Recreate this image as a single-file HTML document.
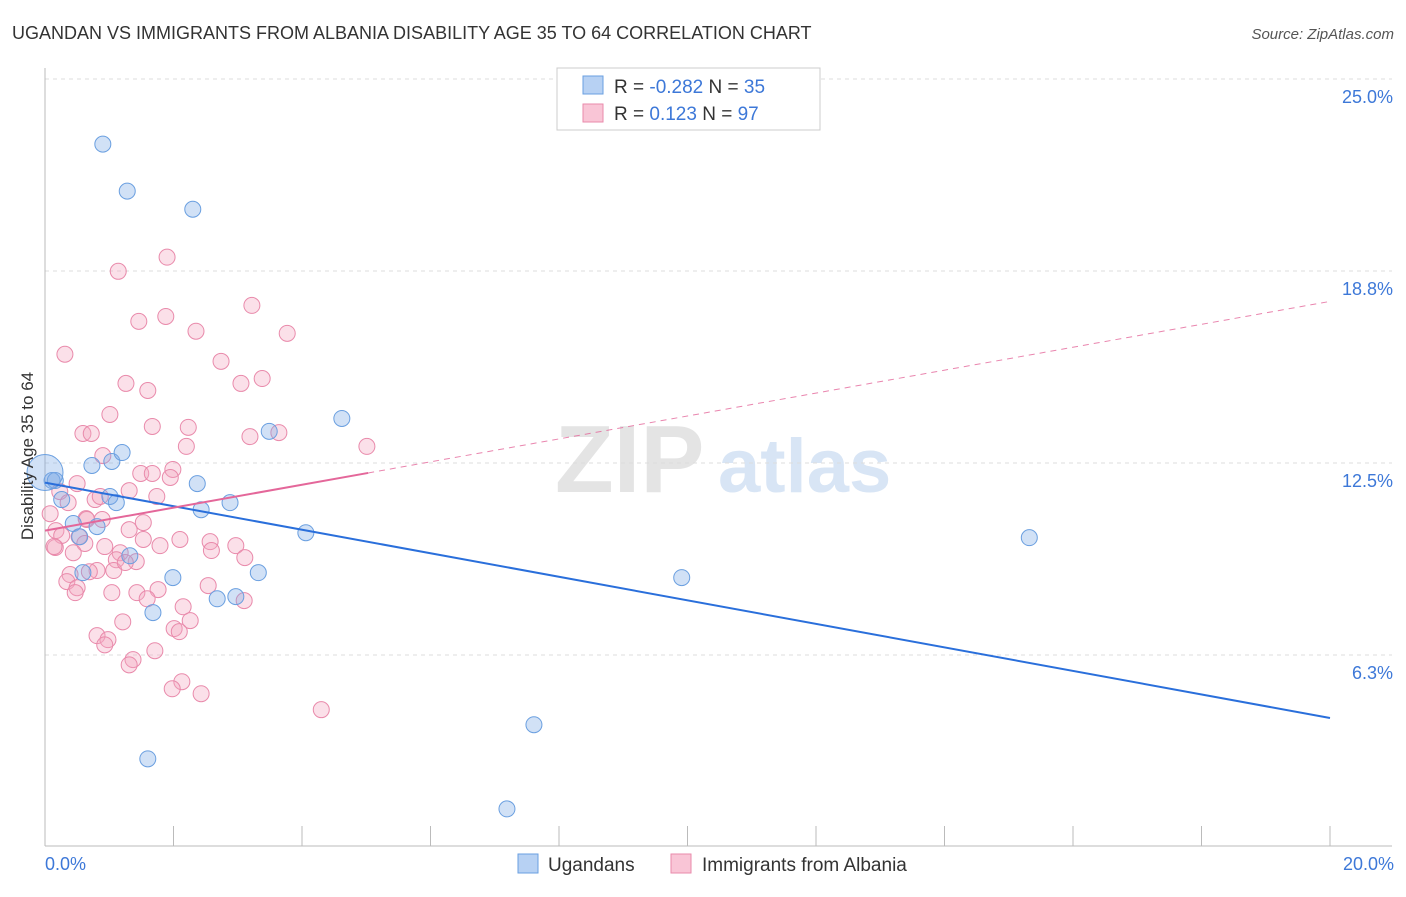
<!DOCTYPE html>
<html><head><meta charset="utf-8"><style>
body{margin:0;background:#fff;font-family:"Liberation Sans",sans-serif;}
svg text{font-family:"Liberation Sans",sans-serif;}
</style></head><body>
<svg id="chart" width="1406" height="892" viewBox="0 0 1406 892" xmlns="http://www.w3.org/2000/svg">
<text x="12" y="39" font-size="18" fill="#333">UGANDAN VS IMMIGRANTS FROM ALBANIA DISABILITY AGE 35 TO 64 CORRELATION CHART</text>
<text x="1394" y="39" font-size="15" fill="#555" text-anchor="end" font-style="italic">Source: ZipAtlas.com</text>
<g>
<text x="555" y="492" font-size="96" fill="#e4e4e4" font-family="Liberation Serif,serif" font-weight="bold">ZIP</text>
<text x="718" y="492" font-size="76" fill="#d8e5f5" font-weight="bold">atlas</text>
</g>
<g id="grid"></g>
<g id="axes"></g>
<g id="marks"></g>
<text transform="translate(33,456) rotate(-90)" font-size="17" fill="#333" text-anchor="middle">Disability Age 35 to 64</text>
<g>
<rect x="557" y="68" width="263" height="62" fill="#fff" stroke="#ccc"/>
<rect x="583" y="76" width="20" height="18" fill="#b7d1f3" stroke="#6a9fe0"/>
<rect x="583" y="104" width="20" height="18" fill="#f9c5d6" stroke="#e98aab"/>
<text x="614" y="93" font-size="19" fill="#333">R = <tspan fill="#3d78d8">-0.282</tspan>   N = <tspan fill="#3d78d8">35</tspan></text>
<text x="614" y="120" font-size="19" fill="#333">R =   <tspan fill="#3d78d8">0.123</tspan>   N = <tspan fill="#3d78d8">97</tspan></text>
</g>
<g>
<rect x="518" y="854" width="20" height="19" fill="#b7d1f3" stroke="#6a9fe0"/>
<text x="548" y="871" font-size="19" fill="#333">Ugandans</text>
<rect x="671" y="854" width="20" height="19" fill="#f9c5d6" stroke="#e98aab"/>
<text x="702" y="871" font-size="19" fill="#333">Immigrants from Albania</text>
</g>
</svg>
<script>
const yTicks=[25,18.75,12.5,6.25];
const yTickLabels=["25.0%","18.8%","12.5%","6.3%"];
const xTickLabels=["0.0%","20.0%"];
const blueX=[0.90,1.28,2.30,0.11,0.73,1.04,1.20,0.26,1.01,1.11,0.44,0.81,0.54,1.32,0.59,1.99,1.68,1.60,2.37,2.43,2.88,2.68,2.97,3.32,3.49,4.06,4.62,9.91,15.32,7.61,7.19,0.16,0.0];
const blueY=[22.88,21.35,20.76,11.93,12.42,12.55,12.84,11.31,11.41,11.21,10.53,10.43,10.10,9.48,8.93,8.77,7.63,2.87,11.83,10.98,11.21,8.08,8.15,8.93,13.53,10.23,13.95,8.77,10.07,3.98,1.24,11.93,12.19];
const pinkX=[1.14,1.90,1.46,1.88,2.35,3.22,3.77,0.31,2.74,1.26,1.60,3.05,3.38,1.01,1.67,2.23,0.59,0.72,3.19,3.64,2.20,5.01,0.90,1.49,1.67,1.99,1.95,0.50,0.78,1.31,1.74,0.23,0.36,0.08,0.64,0.89,1.53,0.17,0.26,0.53,0.62,1.31,1.53,2.10,2.57,2.97,1.79,0.93,0.16,0.44,1.17,1.11,1.42,2.59,3.11,1.07,0.81,0.69,0.39,0.34,2.54,0.50,0.47,1.04,1.43,1.76,1.59,3.10,2.15,1.21,2.26,2.01,2.09,0.81,0.98,0.93,1.71,1.37,1.31,2.13,1.98,2.43,4.30,0.14,0.65,0.86,1.25];
const pinkY=[18.74,19.20,17.11,17.27,16.79,17.63,16.72,16.04,15.81,15.09,14.86,15.09,15.25,14.08,13.69,13.66,13.46,13.46,13.36,13.49,13.04,13.04,12.74,12.16,12.16,12.29,12.03,11.83,11.31,11.60,11.41,11.57,11.21,10.85,10.69,10.66,10.56,10.30,10.14,10.10,9.88,10.33,10.01,10.01,9.94,9.81,9.81,9.78,9.75,9.58,9.58,9.35,9.29,9.65,9.42,9.00,9.00,8.96,8.87,8.64,8.51,8.44,8.28,8.28,8.28,8.38,8.08,8.02,7.82,7.33,7.37,7.11,7.01,6.88,6.75,6.58,6.39,6.10,5.93,5.38,5.15,4.99,4.47,9.78,10.66,11.41,9.26];
const blueTrend=[11.86,4.2];
const pinkTrend=[10.3,17.76];
const pinkSolidEnd=5.03;
const NS="http://www.w3.org/2000/svg";
const sx=v=>45+v*64.25;
const sy=v=>847-v*30.72;
function mk(tag,attrs,parent){const e=document.createElementNS(NS,tag);for(const k in attrs)e.setAttribute(k,attrs[k]);parent.appendChild(e);return e;}
const grid=document.getElementById('grid'),axes=document.getElementById('axes'),marks=document.getElementById('marks');
yTicks.forEach((t,i)=>{
 const l=mk('line',{x1:45,x2:1392,y1:sy(t),y2:sy(t),stroke:'#ddd','stroke-dasharray':'4,4'},grid);
 
 
 const tx=mk('text',{x:1393,y:sy(t)+24,'font-size':18,fill:'#3d78d8','text-anchor':'end'},axes);
 tx.textContent=yTickLabels[i];
 
 
});
const ax=mk('line',{x1:45,x2:45,y1:68,y2:846,stroke:'#bbb'},axes);


const bx=mk('line',{x1:45,x2:1392,y1:846,y2:846,stroke:'#bbb'},axes);


for(let i=0;i<=10;i++){const tk=mk('line',{x1:sx(i*2),x2:sx(i*2),y1:826,y2:846,stroke:'#bbb'},axes);
 
 }
[[0,'start',45],[20,'end',1394]].forEach((d,i)=>{const t=mk('text',{x:d[2],y:870,'font-size':18,fill:'#3d78d8','text-anchor':d[1]},axes);t.textContent=xTickLabels[i];
 
 });
pinkX.forEach((x,i)=>{const c=mk('circle',{cx:sx(x),cy:sy(pinkY[i]),r:8,fill:'rgba(244,166,192,0.35)',stroke:'#e98aab','stroke-width':1},marks);
 
 });
blueX.forEach((x,i)=>{const last=i===blueX.length-1;const c=mk('circle',{cx:sx(x),cy:sy(blueY[i]),r:last?18:8,fill:'rgba(122,169,230,0.35)',stroke:'#6a9fe0','stroke-width':1},marks);
 
 });
const pf=x=>pinkTrend[0]+(pinkTrend[1]-pinkTrend[0])*x/20;
const bl=mk('line',{x1:sx(0),y1:sy(blueTrend[0]),x2:sx(20),y2:sy(blueTrend[1]),stroke:'#2a6fdb','stroke-width':2},marks);


const ps=mk('line',{x1:sx(0),y1:sy(pf(0)),x2:sx(pinkSolidEnd),y2:sy(pf(pinkSolidEnd)),stroke:'#e4679a','stroke-width':2},marks);


const pd=mk('line',{x1:sx(pinkSolidEnd),y1:sy(pf(pinkSolidEnd)),x2:sx(20),y2:sy(pf(20)),stroke:'#e4679a','stroke-width':1,'stroke-dasharray':'6,5','opacity':0.8},marks);


</script>
</body></html>
